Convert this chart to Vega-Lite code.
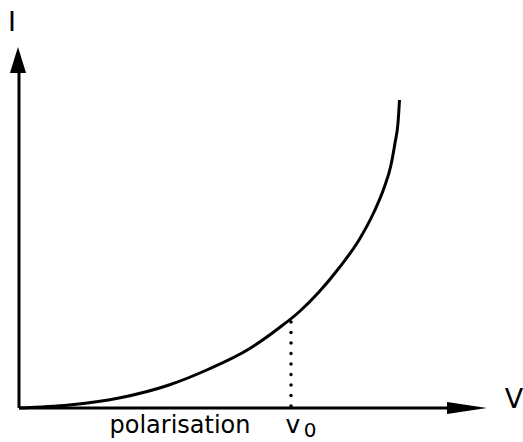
{
  "$schema": "https://vega.github.io/schema/vega-lite/v6.json",
  "width": 523,
  "height": 442,
  "padding": 0,
  "autosize": {"type": "none"},
  "background": "white",
  "config": {"view": {"stroke": null}},
  "datasets": {
    "curve": [
      {"V": 0, "I": 0}, {"V": 50, "I": 3}, {"V": 100, "I": 10}, {"V": 150, "I": 23},
      {"V": 190, "I": 39}, {"V": 230, "I": 59}, {"V": 260, "I": 80}, {"V": 280, "I": 96},
      {"V": 300, "I": 116}, {"V": 320, "I": 140}, {"V": 340, "I": 168}, {"V": 355, "I": 196},
      {"V": 365, "I": 220}, {"V": 372, "I": 243}, {"V": 376, "I": 265}, {"V": 379, "I": 285},
      {"V": 380.5, "I": 308}
    ],
    "axes": [
      {"x": 0, "y": 0, "x2": 0, "y2": 345},
      {"x": 0, "y": 0, "x2": 452, "y2": 0}
    ],
    "yarrow": [{"x": -1, "y": 348}],
    "xarrow": [{"x": 448, "y": 0}],
    "v0": [{"x": 272, "y": 2, "y2": 90}],
    "labels": [
      {"x": -7, "y": 377, "t": "I", "s": 27},
      {"x": 495, "y": 0, "t": "V", "s": 27},
      {"x": 161, "y": -25, "t": "polarisation", "s": 24},
      {"x": 274, "y": -25, "t": "v", "s": 25},
      {"x": 291, "y": -29, "t": "0", "s": 20}
    ]
  },
  "layer": [
    {
      "data": {"name": "axes"},
      "mark": {"type": "rule", "color": "black", "strokeWidth": 3},
      "encoding": {
        "x": {"field": "x", "type": "quantitative", "scale": {"domain": [-19, 504], "nice": false, "zero": false}, "axis": null},
        "y": {"field": "y", "type": "quantitative", "scale": {"domain": [-34, 408], "nice": false, "zero": false}, "axis": null},
        "x2": {"field": "x2"},
        "y2": {"field": "y2"}
      }
    },
    {
      "data": {"name": "yarrow"},
      "mark": {"type": "point", "shape": "M0,-1L0.62,1L-0.62,1Z", "size": 676, "filled": true, "color": "black", "opacity": 1},
      "encoding": {
        "x": {"field": "x", "type": "quantitative", "scale": {"domain": [-19, 504], "nice": false, "zero": false}, "axis": null},
        "y": {"field": "y", "type": "quantitative", "scale": {"domain": [-34, 408], "nice": false, "zero": false}, "axis": null}
      }
    },
    {
      "data": {"name": "xarrow"},
      "mark": {"type": "point", "shape": "M1,0L-1,-0.3L-1,0.3Z", "size": 1600, "filled": true, "color": "black", "opacity": 1},
      "encoding": {
        "x": {"field": "x", "type": "quantitative", "scale": {"domain": [-19, 504], "nice": false, "zero": false}, "axis": null},
        "y": {"field": "y", "type": "quantitative", "scale": {"domain": [-34, 408], "nice": false, "zero": false}, "axis": null}
      }
    },
    {
      "data": {"name": "v0"},
      "mark": {"type": "rule", "color": "black", "strokeWidth": 3.5, "strokeDash": [0.1, 10.4], "strokeCap": "round"},
      "encoding": {
        "x": {"field": "x", "type": "quantitative", "scale": {"domain": [-19, 504], "nice": false, "zero": false}, "axis": null},
        "y": {"field": "y", "type": "quantitative", "scale": {"domain": [-34, 408], "nice": false, "zero": false}, "axis": null},
        "y2": {"field": "y2"}
      }
    },
    {
      "data": {"name": "curve"},
      "mark": {"type": "line", "color": "black", "strokeWidth": 3, "interpolate": "monotone"},
      "encoding": {
        "x": {"field": "V", "type": "quantitative", "scale": {"domain": [-19, 504], "nice": false, "zero": false}, "axis": null},
        "y": {"field": "I", "type": "quantitative", "scale": {"domain": [-34, 408], "nice": false, "zero": false}, "axis": null}
      }
    },
    {
      "data": {"name": "labels"},
      "mark": {"type": "text", "font": "DejaVu Sans", "color": "black", "align": "center", "baseline": "alphabetic"},
      "encoding": {
        "x": {"field": "x", "type": "quantitative", "scale": {"domain": [-19, 504], "nice": false, "zero": false}, "axis": null},
        "y": {"field": "y", "type": "quantitative", "scale": {"domain": [-34, 408], "nice": false, "zero": false}, "axis": null},
        "text": {"field": "t"},
        "size": {"field": "s", "type": "quantitative", "scale": null}
      }
    }
  ]
}
